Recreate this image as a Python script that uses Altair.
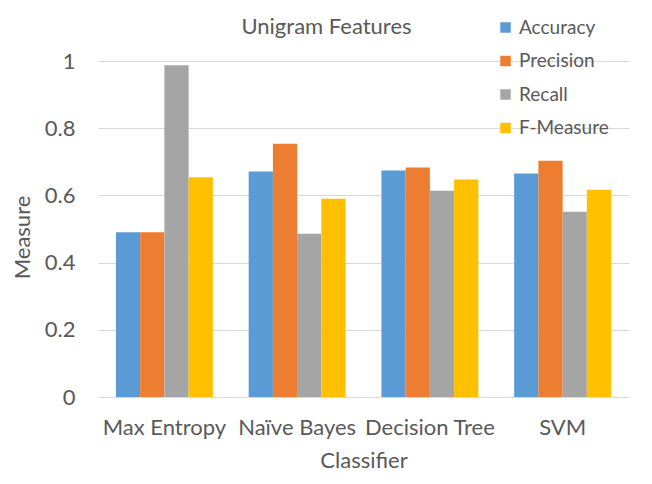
import altair as alt
import pandas as pd

classifiers = ["Max Entropy", "Naïve Bayes", "Decision Tree", "SVM"]
measures = ["Accuracy", "Precision", "Recall", "F-Measure"]
accuracy = [0.490, 0.671, 0.674, 0.665]
precision = [0.490, 0.754, 0.683, 0.703]
recall = [0.987, 0.486, 0.614, 0.551]
f_measure = [0.654, 0.590, 0.647, 0.617]
colors = ["#5B9BD5", "#ED7D31", "#A5A5A5", "#FFC000"]
y_ticks = [0, 0.2, 0.4, 0.6, 0.8, 1]

rows = []
for i, c in enumerate(classifiers):
    for m, vals in zip(measures, [accuracy, precision, recall, f_measure]):
        rows.append({"Classifier": c, "Measure": m, "Value": vals[i]})
df = pd.DataFrame(rows)

FONT = "Lato"
TXT = "#595959"
GRID = "#d9d9d9"

chart = alt.Chart(df).mark_bar().encode(
    x=alt.X(
        "Classifier:N",
        sort=classifiers,
        scale=alt.Scale(paddingInner=0.27, paddingOuter=0.135),
        axis=alt.Axis(
            title="Classifier", labelAngle=0, labelFont=FONT, labelFontSize=22,
            labelColor=TXT, titleFont=FONT, titleFontSize=22, titleColor=TXT,
            titleFontWeight="normal", ticks=False, domainColor=GRID,
            labelPadding=20, titlePadding=12, grid=False,
        ),
    ),
    xOffset=alt.XOffset("Measure:N", sort=measures,
                        scale=alt.Scale(paddingInner=0, paddingOuter=0)),
    y=alt.Y(
        "Value:Q",
        scale=alt.Scale(domain=[0, 1]),
        axis=alt.Axis(
            title="Measure", values=y_ticks, format="~g", labelFont=FONT,
            labelFontSize=22, labelColor=TXT, titleFont=FONT, titleFontSize=22,
            titleColor=TXT, titleFontWeight="normal", ticks=False, domain=False,
            gridColor=GRID, labelPadding=23, titlePadding=10, titleY=176,
        ),
    ),
    color=alt.Color(
        "Measure:N",
        sort=measures,
        scale=alt.Scale(domain=measures, range=colors),
        legend=alt.Legend(
            title=None, orient="none", legendX=398, legendY=-43,
            labelFont=FONT, labelFontSize=19, labelColor=TXT,
            symbolType="square", symbolSize=110, symbolStrokeWidth=0,
            rowPadding=13.5, padding=0, labelOffset=4,
        ),
    ),
).properties(
    width=531,
    height=336,
    title=alt.TitleParams(
        "Unigram Features", font=FONT, fontSize=22, color=TXT,
        fontWeight="normal", anchor="middle", dx=-37, offset=20, dy=41,
    ),
    autosize="none",
    padding={"left": 90, "top": 53, "right": 15, "bottom": 79},
    background="white",
).configure_view(stroke=None)

chart.save("out.html", embed_options={"renderer": "svg", "actions": False})
